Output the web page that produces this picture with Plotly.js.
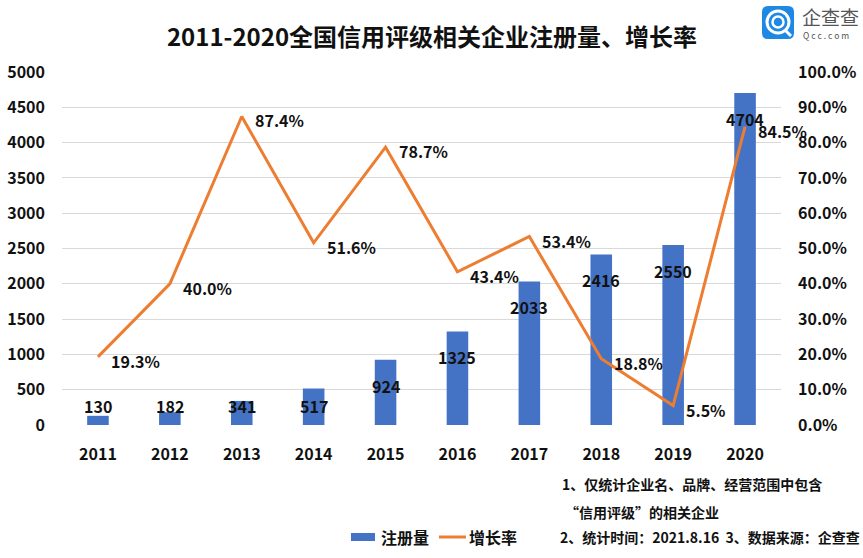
<!DOCTYPE html>
<html>
<head>
<meta charset="utf-8">
<script src="https://cdn.plot.ly/plotly-3.0.1.min.js"></script>
<style>html,body{margin:0;padding:0;background:#fff;}#chart{width:863px;height:558px;}</style>
</head>
<body>
<div id="chart"></div>
<script>
const years = ['2011','2012','2013','2014','2015','2016','2017','2018','2019','2020'];
const registrations = [130, 182, 341, 517, 924, 1325, 2033, 2416, 2550, 4704];
const growthRate = [0.193, 0.400, 0.874, 0.516, 0.787, 0.434, 0.534, 0.188, 0.055, 0.845];
const growthLabels = ['19.3%','40.0%','87.4%','51.6%','78.7%','43.4%','53.4%','18.8%','5.5%','84.5%'];
const titleText = '2011-2020全国信用评级相关企业注册量、增长率';
const noteLines = ['1、仅统计企业名、品牌、经营范围中包含', '“信用评级”的相关企业', '2、统计时间：2021.8.16&nbsp;&nbsp;3、数据来源：企查查'];
const legendNames = ['注册量', '增长率'];

const FONT = '"Noto Sans CJK SC", "Noto Sans", sans-serif';
const BLUE = '#4472C4', ORANGE = '#ED7D31';
const L = 62, R = 781, T = 72, B = 425;
const px = x => (x - L) / (R - L);
const py = y => (B - y) / (B - T);
const YMAX = 5000;
const unitsPerPx = YMAX / (B - T);

const annotations = [];
// bar value labels (inside end, clamped near base for short bars)
registrations.forEach((v, i) => {
  annotations.push({
    x: i, y: Math.max(v - 26 * unitsPerPx, 19 * unitsPerPx), xref: 'x', yref: 'y',
    text: String(v), showarrow: false, xanchor: 'center', yanchor: 'middle',
    font: {family: FONT, size: 16, color: '#111', weight: 'bold'}
  });
});
// growth labels
growthRate.forEach((v, i) => {
  annotations.push({
    x: i, y: v, xref: 'x', yref: 'y2', text: growthLabels[i], showarrow: false,
    xanchor: 'left', yanchor: 'middle', xshift: 11, yshift: -4,
    font: {family: FONT, size: 16, color: '#111', weight: 'bold'}
  });
});
// notes
const noteY = [484, 512, 537];
const noteX = [560, 563, 558];
noteLines.forEach((t, i) => {
  annotations.push({
    x: px(noteX[i]), y: py(noteY[i]), xref: 'paper', yref: 'paper', text: t, showarrow: false,
    xanchor: 'left', yanchor: 'middle', font: {family: FONT, size: 14, color: '#111', weight: 'bold'}
  });
});
// legend text
annotations.push({x: px(379), y: py(537), xref: 'paper', yref: 'paper', text: legendNames[0], showarrow: false,
  xanchor: 'left', yanchor: 'middle', font: {family: FONT, size: 16, color: '#111', weight: 'bold'}});
annotations.push({x: px(467), y: py(537), xref: 'paper', yref: 'paper', text: legendNames[1], showarrow: false,
  xanchor: 'left', yanchor: 'middle', font: {family: FONT, size: 16, color: '#111', weight: 'bold'}});
// logo text
annotations.push({x: px(800), y: py(16), xref: 'paper', yref: 'paper', text: '企查查', showarrow: false,
  xanchor: 'left', yanchor: 'middle', font: {family: FONT, size: 19, color: '#555'}});
annotations.push({x: px(801), y: py(35), xref: 'paper', yref: 'paper', text: 'Q c c . c o m', showarrow: false,
  xanchor: 'left', yanchor: 'middle', font: {family: FONT, size: 8.5, color: '#555'}});

const shapes = [
  // legend symbols
  {type: 'rect', xref: 'paper', yref: 'paper', x0: px(351), x1: px(375), y0: py(533), y1: py(541), fillcolor: BLUE, line: {width: 0}},
  {type: 'line', xref: 'paper', yref: 'paper', x0: px(439), x1: px(466), y0: py(537), y1: py(537), line: {color: ORANGE, width: 3}},
  // logo icon
  {type: 'path', xref: 'paper', yref: 'paper', fillcolor: '#1E88E5', line: {width: 0},
    path: `M ${px(768)} ${py(6)} L ${px(788)} ${py(6)} Q ${px(794)} ${py(6)} ${px(794)} ${py(12)} L ${px(794)} ${py(33)} Q ${px(794)} ${py(39)} ${px(788)} ${py(39)} L ${px(768)} ${py(39)} Q ${px(762)} ${py(39)} ${px(762)} ${py(33)} L ${px(762)} ${py(12)} Q ${px(762)} ${py(6)} ${px(768)} ${py(6)} Z`},
  {type: 'circle', xref: 'paper', yref: 'paper', x0: px(767), x1: px(789), y0: py(11), y1: py(33), line: {color: '#fff', width: 3}},
  {type: 'circle', xref: 'paper', yref: 'paper', x0: px(772.5), x1: px(783.5), y0: py(16.5), y1: py(27.5), line: {color: '#fff', width: 2.5}},
  {type: 'line', xref: 'paper', yref: 'paper', x0: px(785), x1: px(791), y0: py(30), y1: py(36), line: {color: '#fff', width: 3}}
];

const traces = [
  {type: 'bar', x: years, y: registrations, name: legendNames[0], marker: {color: BLUE}, width: 0.3, yaxis: 'y', hoverinfo: 'skip'},
  {type: 'scatter', mode: 'lines', x: years, y: growthRate, name: legendNames[1], line: {color: ORANGE, width: 3}, yaxis: 'y2', hoverinfo: 'skip'}
];

const tickFont = {family: FONT, size: 16, color: '#111', weight: 'bold'};
const layout = {
  width: 863, height: 558,
  margin: {l: L, r: 863 - R, t: T, b: 558 - B, pad: 0},
  paper_bgcolor: '#fff', plot_bgcolor: '#fff',
  showlegend: false,
  title: {text: titleText, x: 432 / 863, xref: 'container', y: 1 - 38 / 558, yref: 'container', xanchor: 'center', yanchor: 'middle',
    font: {family: FONT, size: 24, color: '#111', weight: 'bold'}},
  xaxis: {type: 'category', range: [-0.5, 9.5], showgrid: false, zeroline: false, showline: false, ticks: '',
    tickfont: tickFont, ticklabelstandoff: 18, fixedrange: true},
  yaxis: {range: [0, YMAX], dtick: 500, showgrid: true, gridcolor: '#d9d9d9', gridwidth: 1, zeroline: false,
    showline: false, ticks: '', tickfont: tickFont, ticklabelstandoff: 16, fixedrange: true},
  yaxis2: {range: [0, 1], dtick: 0.1, tickformat: '.1%', overlaying: 'y', side: 'right', showgrid: false, zeroline: false,
    showline: false, ticks: '', tickfont: tickFont, ticklabelstandoff: 16, fixedrange: true},
  annotations: annotations,
  shapes: shapes
};

Plotly.newPlot('chart', traces, layout, {displayModeBar: false, staticPlot: true});
</script>
</body>
</html>
